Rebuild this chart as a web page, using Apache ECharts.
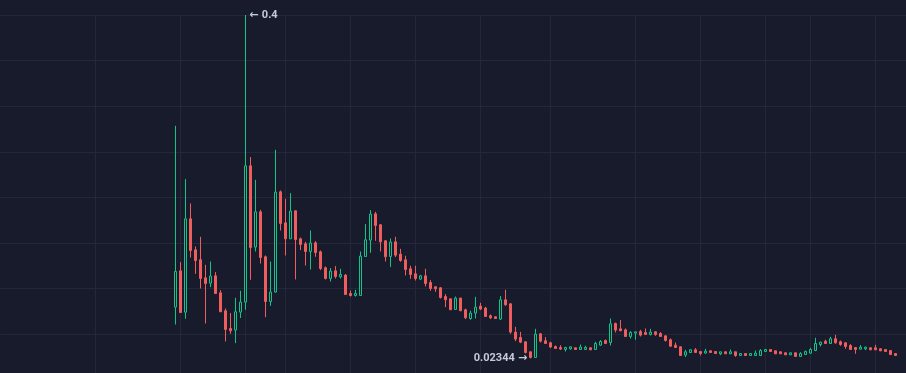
<!DOCTYPE html>
<html>
<head>
<meta charset="utf-8">
<script src="https://cdn.jsdelivr.net/npm/echarts@6/dist/echarts.min.js"></script>
<style>
  html, body { margin: 0; padding: 0; background: #181b2c; }
  #chart { width: 906px; height: 373px; }
</style>
</head>
<body>
<div id="chart"></div>
<script>
// Empty slots before the first and after the last candle on the time axis
const padLeft = 35;
const padRight = 3;

// OHLC values of each candle
const openV = [0.0797,0.1195,0.0742,0.1765,0.1425,0.1316,0.1118,0.1060,0.1140,0.0954,0.0757,0.0563,0.0545,0.0742,0.0852,0.2346,0.1455,0.1842,0.1349,0.0859,0.0962,0.2061,0.1721,0.1546,0.1853,0.1546,0.1491,0.1407,0.1502,0.1404,0.1228,0.1111,0.1195,0.1129,0.1148,0.0946,0.0924,0.0924,0.1352,0.1532,0.1820,0.1700,0.1524,0.1352,0.1513,0.1378,0.1316,0.1217,0.1162,0.1104,0.1140,0.1067,0.1020,0.1009,0.0913,0.0888,0.0771,0.0896,0.0768,0.0672,0.0731,0.0808,0.0786,0.0702,0.0691,0.0666,0.0877,0.0833,0.0523,0.0464,0.0417,0.0307,0.0245,0.0504,0.0428,0.0406,0.0365,0.0354,0.0332,0.0340,0.0351,0.0332,0.0332,0.0351,0.0332,0.0380,0.0431,0.0409,0.0617,0.0559,0.0548,0.0475,0.0512,0.0530,0.0519,0.0497,0.0526,0.0508,0.0482,0.0439,0.0380,0.0362,0.0271,0.0299,0.0329,0.0310,0.0293,0.0318,0.0310,0.0285,0.0307,0.0285,0.0307,0.0266,0.0288,0.0266,0.0266,0.0266,0.0310,0.0332,0.0318,0.0307,0.0296,0.0274,0.0296,0.0256,0.0277,0.0292,0.0321,0.0387,0.0424,0.0398,0.0450,0.0417,0.0406,0.0376,0.0354,0.0336,0.0340,0.0351,0.0351,0.0340,0.0332,0.0321,0.0288];
const closeV = [0.1188,0.0738,0.1765,0.1418,0.1308,0.1111,0.1056,0.1137,0.0946,0.0746,0.0552,0.0537,0.0746,0.0852,0.2346,0.1451,0.1842,0.1341,0.0859,0.0962,0.2058,0.1714,0.1546,0.1850,0.1538,0.1484,0.1407,0.1499,0.1396,0.1220,0.1111,0.1192,0.1133,0.1155,0.0935,0.0924,0.0946,0.1356,0.1535,0.1817,0.1692,0.1513,0.1349,0.1510,0.1367,0.1308,0.1209,0.1155,0.1111,0.1140,0.1056,0.1001,0.0998,0.0902,0.0877,0.0768,0.0896,0.0757,0.0680,0.0731,0.0797,0.0775,0.0694,0.0680,0.0672,0.0877,0.0822,0.0523,0.0446,0.0413,0.0299,0.0245,0.0501,0.0424,0.0398,0.0359,0.0343,0.0337,0.0354,0.0362,0.0332,0.0359,0.0354,0.0329,0.0398,0.0420,0.0398,0.0614,0.0545,0.0537,0.0475,0.0519,0.0526,0.0490,0.0497,0.0523,0.0497,0.0475,0.0431,0.0369,0.0354,0.0266,0.0307,0.0329,0.0299,0.0288,0.0314,0.0299,0.0288,0.0307,0.0285,0.0307,0.0266,0.0288,0.0266,0.0288,0.0292,0.0321,0.0332,0.0310,0.0285,0.0285,0.0274,0.0296,0.0256,0.0288,0.0310,0.0332,0.0398,0.0413,0.0398,0.0450,0.0406,0.0387,0.0365,0.0332,0.0332,0.0358,0.0358,0.0329,0.0329,0.0318,0.0310,0.0277,0.0266];
const lowV = [0.0606,0.0738,0.0669,0.1341,0.1162,0.1001,0.0617,0.1016,0.0946,0.0746,0.0420,0.0504,0.0402,0.0677,0.0768,0.1096,0.1407,0.1275,0.0687,0.0811,0.0958,0.1637,0.1363,0.1546,0.1100,0.1422,0.1253,0.1209,0.1349,0.1203,0.1100,0.1078,0.1111,0.1111,0.0935,0.0913,0.0913,0.0924,0.1349,0.1393,0.1524,0.1407,0.1297,0.1236,0.1345,0.1294,0.1144,0.1107,0.1089,0.1096,0.1023,0.0976,0.0965,0.0891,0.0797,0.0765,0.0768,0.0753,0.0666,0.0658,0.0672,0.0764,0.0690,0.0666,0.0669,0.0655,0.0811,0.0504,0.0424,0.0402,0.0288,0.02344,0.0240,0.0409,0.0395,0.0348,0.0340,0.0326,0.0310,0.0329,0.0329,0.0329,0.0329,0.0325,0.0329,0.0373,0.0395,0.0376,0.0519,0.0534,0.0471,0.0453,0.0439,0.0475,0.0493,0.0486,0.0482,0.0471,0.0420,0.0359,0.0351,0.0263,0.0249,0.0296,0.0296,0.0266,0.0288,0.0296,0.0285,0.0271,0.0282,0.0282,0.0252,0.0263,0.0263,0.0263,0.0263,0.0263,0.0307,0.0307,0.0282,0.0282,0.0271,0.0271,0.0252,0.0252,0.0274,0.0285,0.0314,0.0365,0.0395,0.0395,0.0395,0.0373,0.0340,0.0329,0.0285,0.0332,0.0325,0.0325,0.0325,0.0314,0.0307,0.0274,0.0263];
const highV = [0.2785,0.1290,0.2201,0.1933,0.1462,0.1568,0.1261,0.1297,0.1181,0.0983,0.0782,0.0731,0.0899,0.0976,0.4000,0.2442,0.2193,0.1864,0.1363,0.1297,0.2522,0.2076,0.1985,0.2047,0.1856,0.1560,0.1513,0.1637,0.1521,0.1418,0.1243,0.1225,0.1247,0.1217,0.1159,0.0979,0.0987,0.1407,0.1707,0.1861,0.1842,0.1707,0.1532,0.1549,0.1568,0.1436,0.1360,0.1250,0.1250,0.1151,0.1217,0.1093,0.1020,0.1016,0.0940,0.0891,0.0913,0.0899,0.0779,0.0757,0.0910,0.0844,0.0800,0.0716,0.0694,0.0918,0.0987,0.0841,0.0581,0.0526,0.0417,0.0307,0.0559,0.0512,0.0468,0.0417,0.0376,0.0380,0.0362,0.0365,0.0354,0.0387,0.0373,0.0354,0.0417,0.0435,0.0442,0.0672,0.0628,0.0655,0.0563,0.0534,0.0526,0.0548,0.0563,0.0559,0.0534,0.0523,0.0486,0.0453,0.0409,0.0365,0.0329,0.0336,0.0347,0.0314,0.0340,0.0321,0.0314,0.0307,0.0310,0.0332,0.0310,0.0291,0.0291,0.0291,0.0321,0.0336,0.0336,0.0336,0.0321,0.0310,0.0299,0.0299,0.0299,0.0303,0.0321,0.0351,0.0461,0.0417,0.0439,0.0471,0.0493,0.0431,0.0409,0.0391,0.0358,0.0380,0.0362,0.0354,0.0384,0.0343,0.0336,0.0325,0.0291];

// Slots where the vertical time grid lines fall
const timeGridSlots = [19, 36, 49, 57, 70, 83, 96, 110, 127, 140, 153, 162, 175];

const total = padLeft + openV.length + padRight;
const categories = Array.from({ length: total }, (_, i) => 'T' + i);
const candles = categories.map((_, i) => {
  const k = i - padLeft;
  if (k < 0 || k >= openV.length) return '-';
  return [openV[k], closeV[k], lowV[k], highV[k]];
});

const BG = '#181b2c';
const GRID = '#232739';
const UP = '#12c38a';
const DOWN = '#ef5d5d';
const TXT = '#c6c9d8';

const labelRich = {
  n: { color: TXT, fontSize: 11, fontWeight: 'bold', fontFamily: 'Roboto, "Noto Sans", sans-serif' },
  a: { color: TXT, fontSize: 11, fontWeight: 'bold', fontFamily: '"DejaVu Sans", sans-serif' }
};

const chart = echarts.init(document.getElementById('chart'), null, { renderer: 'canvas' });
chart.setOption({
  backgroundColor: BG,
  animation: false,
  grid: {
    left: 0.3, top: 15, width: 5 * (total - 1), height: 364.8,
    outerBoundsMode: 'none', containLabel: false
  },
  xAxis: {
    type: 'category',
    data: categories,
    boundaryGap: false,
    axisLine: { show: false },
    axisTick: { show: false },
    axisLabel: { show: false },
    splitLine: {
      show: true,
      interval: (idx) => timeGridSlots.indexOf(idx) >= 0,
      lineStyle: { color: GRID, width: 1 }
    }
  },
  yAxis: {
    type: 'value',
    min: 0,
    max: 0.4,
    interval: 0.05,
    axisLine: { show: false },
    axisTick: { show: false },
    axisLabel: { show: false },
    splitLine: { show: true, lineStyle: { color: GRID, width: 1 } }
  },
  series: [{
    type: 'candlestick',
    data: candles,
    barWidth: 3,
    itemStyle: {
      color: BG,
      color0: DOWN,
      borderColor: UP,
      borderColor0: DOWN,
      borderWidth: 1
    },
    markPoint: {
      symbol: 'circle',
      symbolSize: 0,
      silent: true,
      label: { show: true, rich: labelRich },
      data: [
        { type: 'max', valueDim: 'highest',
          label: { position: 'right', distance: 4, formatter: (p) => '{a|\u2190} {n|' + p.value + '}' } },
        { type: 'min', valueDim: 'lowest',
          label: { position: 'left', distance: 3, formatter: (p) => '{n|' + p.value + '} {a|\u2192}' } }
      ]
    }
  }]
});
</script>
</body>
</html>
